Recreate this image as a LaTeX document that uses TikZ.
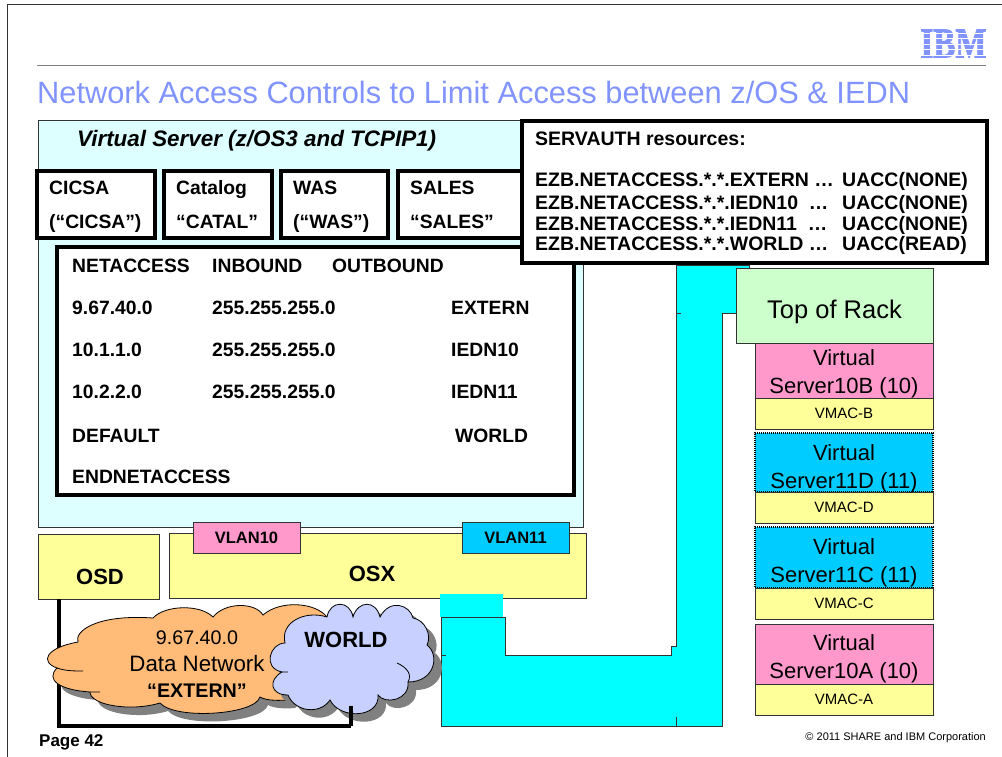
\documentclass[tikz,border=0pt]{standalone}
\usepackage{fontspec}
\setmainfont{Liberation Sans}
\newfontfamily\logofont[FakeBold=2.5]{Liberation Serif Bold}
\usetikzlibrary{shadows}

\definecolor{titleblue}{HTML}{8093FF}
\definecolor{hostcyan}{HTML}{DDFFFF}
\definecolor{buscyan}{HTML}{00FFFF}
\definecolor{osayellow}{HTML}{FFFF99}
\definecolor{vlanpink}{HTML}{FF99CC}
\definecolor{vlanblue}{HTML}{00CCFF}
\definecolor{rackgreen}{HTML}{CCFFCC}
\definecolor{cloudorange}{HTML}{FFBB77}
\definecolor{cloudblue}{HTML}{C8D0FF}
\definecolor{edgegray}{HTML}{333333}

\newcommand{\fsz}[1]{\fontsize{#1}{#1}\selectfont}

\tikzset{
	box/.style={draw=edgegray, line width=1pt, anchor=north west, inner sep=0pt, outer sep=0pt, align=center},
	heavybox/.style={draw=black, line width=3.5pt, fill=white, anchor=north west, inner sep=0pt, outer sep=0pt},
	srvbox/.style={box, minimum width=178pt},
	dotbox/.style={srvbox, fill=vlanblue, draw=black, densely dotted, line width=1.5pt},
	srvtext/.style={inner sep=0pt, align=center, font=\fsz{22}},
	macbox/.style={box, fill=osayellow, minimum width=178pt, minimum height=31pt, font=\fsz{15}},
	vlanbox/.style={box, minimum width=107pt, minimum height=31pt, font=\fsz{16.5}\bfseries},
	lbl/.style={anchor=west, inner sep=0pt, text height=14pt, text depth=0pt, font=\fsz{19.3}\bfseries},
	authlbl/.style={lbl, font=\fsz{19.5}\bfseries},
	cloudshape/.style={draw=black, line width=0.8pt, drop shadow={shadow xshift=8pt, shadow yshift=-8pt, fill=gray, opacity=1}},
}

\begin{document}
\begin{tikzpicture}[x=1pt, y=-1pt]
	\useasboundingbox (0,0) rectangle (1002,757);

	% page frame and title
	\draw [edgegray, line width=0.8pt] (7,757) -- (7,4) -- (1002,4);
	\draw [gray, line width=1pt] (37,65.5) -- (986,65.5);
	\node (title) [anchor=west, inner sep=0pt, text=titleblue, font=\fsz{30.8}] at (37,92) {Network Access Controls to Limit Access between z/OS \& IEDN};
	\node (logo) [inner sep=0pt, text=titleblue, yscale=1.28] at (953.5,43.5) {\logofont\fsz{33}IBM};
	\foreach \y in {33.5,38.9,44.3,49.7,55.1}
		\draw [white, line width=0.8pt] (918,\y) -- (990,\y);

	% virtual server
	\node (host) [box, fill=hostcyan, minimum width=545pt, minimum height=406pt] at (38,121) {};
	\node (hosttitle) [anchor=west, inner sep=0pt, font=\fsz{22.4}\bfseries\itshape] at (77,141) {Virtual Server (z/OS3 and TCPIP1)};

	\node (cicsa) [heavybox, minimum width=118pt, minimum height=67pt] at (37,171) {};
	\node (catalog) [heavybox, minimum width=108pt, minimum height=67pt] at (164,171) {};
	\node (was) [heavybox, minimum width=107pt, minimum height=67pt] at (281,171) {};
	\node (sales) [heavybox, minimum width=125pt, minimum height=67pt] at (398,171) {};
	\node (cicsaone) [lbl] at (49,188) {CICSA};
	\node (cicsatwo) [lbl] at (49,222) {(“CICSA”)};
	\node (catalogone) [lbl] at (176,188) {Catalog};
	\node (catalogtwo) [lbl] at (176,222) {“CATAL”};
	\node (wasone) [lbl] at (293,188) {WAS};
	\node (wastwo) [lbl] at (293,222) {(“WAS”)};
	\node (salesone) [lbl] at (410,188) {SALES};
	\node (salestwo) [lbl] at (410,222) {“SALES”};

	% netaccess table
	\node (netbox) [heavybox, minimum width=517pt, minimum height=248pt] at (57,247) {};
	\foreach \i/\x/\y/\txt in {1/72/265/NETACCESS, 2/212/265/INBOUND, 3/332/265/OUTBOUND,
		4/72/307/9.67.40.0, 5/212/307/255.255.255.0, 6/451/307/EXTERN,
		7/72/349/10.1.1.0, 8/212/349/255.255.255.0, 9/451/349/IEDN10,
		10/72/391/10.2.2.0, 11/212/391/255.255.255.0, 12/451/391/IEDN11,
		13/72/435/DEFAULT, 14/455/435/WORLD, 15/72/476/ENDNETACCESS}
		\node (net\i) [lbl] at (\x,\y) {\txt};

	% bus to the rack
	\draw [edgegray, line width=1pt, fill=buscyan] (441,617) -- (441,726) -- (722,726) -- (722,313) -- (749,313) -- (749,265) -- (676,265) -- (676,646) -- (671,646) -- (671,655) -- (505,655) -- (505,617) -- cycle;
	\draw [edgegray, line width=0.8pt] (441,655) -- (446,655) (676,717) -- (676,726) (676,313) -- (681,313);

	% adapters
	\node (osd) [box, fill=osayellow, minimum width=121pt, minimum height=65pt] at (38,534) {};
	\node (osdlabel) [inner sep=0pt, font=\fsz{22}\bfseries] at (100,577) {OSD};
	\node (osx) [box, fill=osayellow, minimum width=417pt, minimum height=65pt] at (169,533) {};
	\node (osxlabel) [inner sep=0pt, font=\fsz{22}\bfseries] at (372,574) {OSX};
	\node (vlan10) [vlanbox, fill=vlanpink] at (193,522) {VLAN10};
	\node (vlan11) [vlanbox, fill=vlanblue] at (462,522) {VLAN11};
	\fill [buscyan] (440,594) rectangle (503,617);

	% link from osd to world, behind the clouds
	\coordinate (osdport) at (59,599);
	\coordinate (worldport) at (351,706);
	\coordinate (linkleft) at (59,726);
	\coordinate (linkright) at (351,726);
	\draw [black, line width=4pt] (osdport) -- (linkleft) -- (linkright);

	% clouds
	\draw [cloudshape, fill=cloudorange]
		(78,642) .. controls (74,632) and (95,614) .. (153,618)
		.. controls (165,605) and (200,604) .. (213,617)
		.. controls (225,602) and (255,602) .. (263,615)
		.. controls (280,600) and (315,602) .. (327,617)
		-- (340,650) -- (287,700)
		.. controls (275,701) and (265,700) .. (260,697)
		.. controls (255,715) and (175,720) .. (160,703)
		.. controls (130,712) and (90,705) .. (90,692)
		.. controls (60,690) and (45,680) .. (57,668)
		.. controls (40,662) and (45,648) .. (78,642) -- cycle;
	\draw [black, line width=0.8pt] (57,668) .. controls (65,671) and (75,671) .. (83,671) (90,692) -- (100,692);
	\draw [cloudshape, fill=cloudblue]
		(285,643) .. controls (280,622) and (305,610) .. (327,617)
		.. controls (330,600) and (350,600) .. (353,617)
		.. controls (358,600) and (376,600) .. (380,617)
		.. controls (390,598) and (410,605) .. (413,618)
		.. controls (425,620) and (432,635) .. (427,645)
		.. controls (440,655) and (435,682) .. (408,682)
		.. controls (410,700) and (385,705) .. (378,695)
		.. controls (380,718) and (340,720) .. (330,700)
		.. controls (320,715) and (295,712) .. (288,695)
		.. controls (270,695) and (268,680) .. (282,672)
		.. controls (262,668) and (270,643) .. (285,643) -- cycle;
	\draw [black, line width=0.8pt] (408,682) .. controls (412,675) and (408,668) .. (397,663) (282,672) -- (288,672);
	\node (netaddr) [inner sep=0pt, font=\fsz{19.7}] at (197,637.5) {9.67.40.0};
	\node (netname) [inner sep=0pt, font=\fsz{22.3}] at (197,663.5) {Data Network};
	\node (netext) [inner sep=0pt, font=\fsz{19.7}\bfseries] at (197,691) {“EXTERN”};
	\node (worldlabel) [inner sep=0pt, font=\fsz{22}\bfseries] at (346,640) {WORLD};
	\draw [black, line width=4pt] (worldport) -- (linkright);

	% rack and servers
	\node (rack) [box, fill=rackgreen, minimum width=197pt, minimum height=75pt] at (736,268) {};
	\node (racklabel) [inner sep=0pt, font=\fsz{25.5}] at (834.5,312) {Top of Rack};

	\node (srv10b) [srvbox, fill=vlanpink, minimum height=55pt] at (755,343) {};
	\node (mac10b) [macbox] at (755,398) {VMAC-B};
	\node (srv11d) [dotbox, minimum height=59pt] at (755,433) {};
	\node (mac11d) [macbox] at (755,492) {VMAC-D};
	\node (srv11c) [dotbox, minimum height=61pt] at (755,527) {};
	\node (mac11c) [macbox] at (755,588) {VMAC-C};
	\node (srv10a) [srvbox, fill=vlanpink, minimum height=60pt] at (755,624) {};
	\node (mac10a) [macbox] at (755,684) {VMAC-A};
	\node (txt10b) [srvtext] at (844,373.5) {Virtual\\[6pt]Server10B (10)};
	\node (txt11d) [srvtext] at (844,469) {Virtual\\[6pt]Server11D (11)};
	\node (txt11c) [srvtext] at (844,562.5) {Virtual\\[6pt]Server11C (11)};
	\node (txt10a) [srvtext] at (844,658.5) {Virtual\\[6pt]Server10A (10)};

	% servauth
	\node (authbox) [heavybox, minimum width=465pt, minimum height=142pt] at (522,121) {};
	\node (authtitle) [authlbl] at (535,139) {SERVAUTH resources:};
	\foreach \i/\y/\res/\gap/\uacc in {1/180/EXTERN/\ /NONE, 2/202/IEDN10/\ \ /NONE, 3/223/IEDN11/\ \ /NONE, 4/244/WORLD/\ /READ}
	{
		\node (auth\i) [authlbl] at (535,\y) {EZB.NETACCESS.*.*.\res\gap\ldots};
		\node (uacc\i) [authlbl] at (842,\y) {UACC(\uacc)};
	}

	% footer
	\node (page) [anchor=west, inner sep=0pt, font=\fsz{17}\bfseries] at (39,742) {Page 42};
	\node (copy) [anchor=east, inner sep=0pt, font=\fsz{11}] at (986,738) {© 2011 SHARE and IBM Corporation};
\end{tikzpicture}
\end{document}
